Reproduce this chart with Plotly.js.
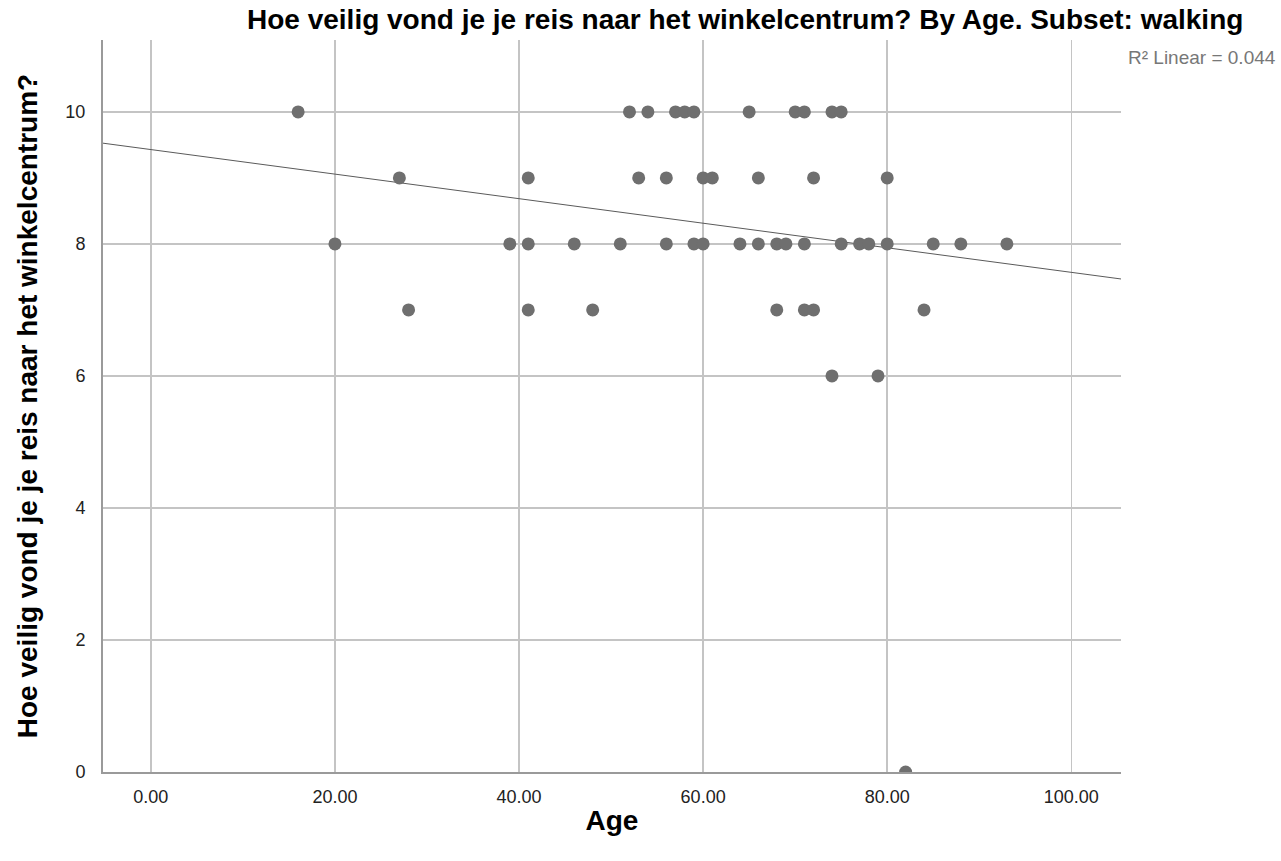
<!DOCTYPE html>
<html>
<head>
<meta charset="utf-8">
<script src="https://cdn.plot.ly/plotly-3.0.1.min.js"></script>
<style>
  html, body { margin: 0; padding: 0; background: #fff; }
  #chart { width: 1281px; height: 861px; }
</style>
</head>
<body>
<div id="chart"></div>
<script>
// Age of each respondent who walked, grouped by safety rating given
const ageRating10 = [16, 52, 54, 57, 58, 59, 65, 70, 71, 74, 75];
const ageRating9  = [27, 41, 53, 56, 60, 61, 66, 72, 80];
const ageRating8  = [20, 39, 41, 46, 51, 56, 59, 60, 64, 66, 68, 69, 71, 75, 77, 78, 80, 85, 88, 93];
const ageRating7  = [28, 41, 48, 68, 71, 72, 84];
const ageRating6  = [74, 79];
const ageRating0  = [82];

// Linear fit (R² = 0.044)
const fitIntercept = 9.43;
const fitSlope = -0.0186;

const ratingGroups = [
  [10, ageRating10], [9, ageRating9], [8, ageRating8],
  [7, ageRating7], [6, ageRating6], [0, ageRating0]
];

const ages = [];
const ratings = [];
ratingGroups.forEach(([r, list]) => list.forEach(a => { ages.push(a); ratings.push(r); }));

const xRange = [-5.2, 105.4];
const fitX = xRange;
const fitY = fitX.map(x => fitIntercept + fitSlope * x);

const xTicks = [0, 20, 40, 60, 80, 100];
const yTicks = [0, 2, 4, 6, 8, 10];

const font = 'Liberation Sans, Arial, sans-serif';

const traces = [
  {
    x: fitX, y: fitY, mode: 'lines', type: 'scatter',
    line: { color: '#5a5a5a', width: 1 }, hoverinfo: 'skip', showlegend: false
  },
  {
    x: ages, y: ratings, mode: 'markers', type: 'scatter',
    marker: { color: '#6f6f6f', size: 13, line: { width: 0 } }, showlegend: false
  }
];

const layout = {
  width: 1281, height: 861,
  margin: { l: 103, r: 160, t: 40, b: 89 },
  paper_bgcolor: '#ffffff', plot_bgcolor: '#ffffff',
  font: { family: font, color: '#222' },
  xaxis: {
    range: xRange, tickvals: xTicks, tickformat: '.2f',
    showgrid: true, gridcolor: '#c4c4c4', gridwidth: 1.5,
    zeroline: false, showline: true, linecolor: '#9a9a9a', linewidth: 2,
    ticks: '', tickfont: { size: 18, color: '#222' }, ticklabelstandoff: 7,
    title: { text: '<b>Age</b>', font: { size: 28, color: '#000' }, standoff: 5 }
  },
  yaxis: {
    range: [0, 11.09], tickvals: yTicks,
    showgrid: true, gridcolor: '#c4c4c4', gridwidth: 1.5,
    zeroline: false, showline: true, linecolor: '#9a9a9a', linewidth: 2,
    ticks: '', tickfont: { size: 18, color: '#222' }, ticklabelstandoff: 12,
    title: { text: '<b>Hoe veilig vond je je reis naar het winkelcentrum?</b>', font: { size: 28, color: '#000' }, standoff: 20 }
  },
  annotations: [
    {
      text: '<b>Hoe veilig vond je je reis naar het winkelcentrum? By Age. Subset: walking</b>',
      xref: 'paper', yref: 'paper', x: 0.631, y: 1, yshift: 21,
      xanchor: 'center', yanchor: 'middle', showarrow: false,
      font: { size: 28, color: '#000', family: font }
    },
    {
      text: 'R² Linear = 0.044',
      xref: 'paper', yref: 'paper', x: 1, xshift: 5, y: 1, yshift: -17,
      xanchor: 'left', yanchor: 'middle', showarrow: false,
      font: { size: 19, color: '#777', family: font }
    }
  ]
};

Plotly.newPlot('chart', traces, layout, { staticPlot: true, displayModeBar: false });
</script>
</body>
</html>
